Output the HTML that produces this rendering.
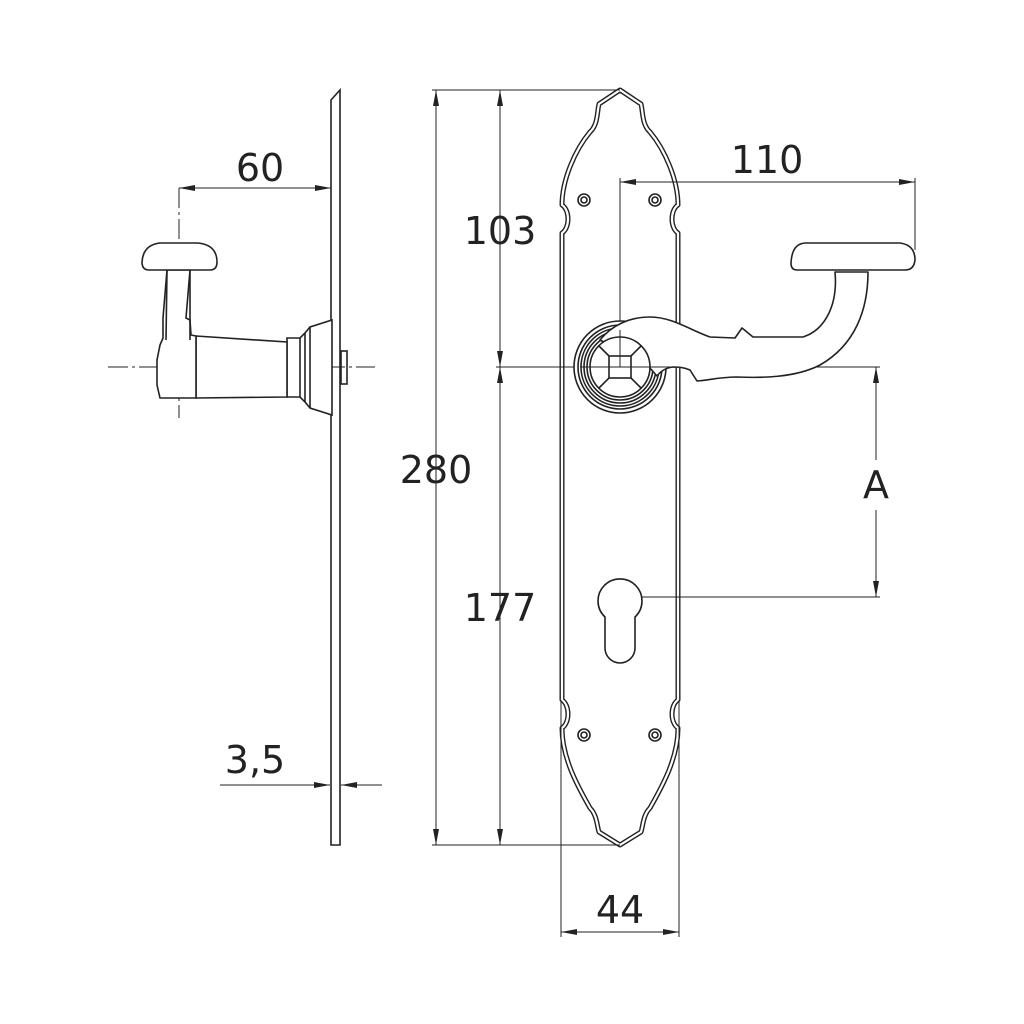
<!DOCTYPE html>
<html><head><style>body{margin:0;background:#fff}svg{display:block}text{font-family:"DejaVu Sans","Liberation Sans",sans-serif;font-size:38px;fill:#222}</style></head><body>
<svg width="1024" height="1024" viewBox="0 0 1024 1024" xmlns="http://www.w3.org/2000/svg">
<defs>
<marker id="a" markerWidth="16" markerHeight="8" refX="16" refY="4" orient="auto-start-reverse" markerUnits="userSpaceOnUse"><path d="M0,1 L16,4 L0,7Z" fill="#222"/></marker>
<path id="pl" d="M620,90 L641,104 C643,112 642,125 650,132 C665,150 678,180 678,205 C670,210 670,228 678,233 L678,700 C670,705 670,723 678,728 C678,760 660,790 650,808 C643,815 643,826 641,832 L620,845 L599,832 C597,826 597,815 590,808 C580,790 562,760 562,728 C570,723 570,705 562,700 L562,233 C570,228 570,210 562,205 C562,180 575,150 590,132 C598,125 597,112 599,104 Z"/>
</defs>
<use href="#pl" fill="#fff" stroke="#222" stroke-width="5" stroke-linejoin="round"/>
<use href="#pl" fill="none" stroke="#fff" stroke-width="2.2" stroke-linejoin="round"/>
<g stroke="#222" fill="none" stroke-width="1">
<line x1="179" y1="188" x2="331" y2="188" marker-start="url(#a)" marker-end="url(#a)"/>
<line x1="220" y1="785" x2="330" y2="785" marker-end="url(#a)"/>
<line x1="382" y1="785" x2="341" y2="785" marker-end="url(#a)"/>
<line x1="432" y1="90" x2="620" y2="90"/>
<line x1="432" y1="845" x2="620" y2="845"/>
<line x1="436" y1="90" x2="436" y2="845" marker-start="url(#a)" marker-end="url(#a)"/>
<line x1="500" y1="90" x2="500" y2="367" marker-start="url(#a)" marker-end="url(#a)"/>
<line x1="500" y1="367" x2="500" y2="845" marker-start="url(#a)" marker-end="url(#a)"/>
<line x1="496" y1="367" x2="880" y2="367"/>
<line x1="620" y1="182" x2="915" y2="182" marker-start="url(#a)" marker-end="url(#a)"/>
<line x1="620" y1="178" x2="620" y2="367"/>
<line x1="915" y1="178" x2="915" y2="250"/>
<line x1="876" y1="460" x2="876" y2="367" marker-end="url(#a)"/>
<line x1="876" y1="510" x2="876" y2="597" marker-end="url(#a)"/>
<line x1="620" y1="597" x2="880" y2="597"/>
<line x1="561" y1="700" x2="561" y2="937"/>
<line x1="679" y1="700" x2="679" y2="937"/>
<line x1="561" y1="932" x2="679" y2="932" marker-start="url(#a)" marker-end="url(#a)"/>
<line x1="108" y1="367" x2="375" y2="367" stroke-dasharray="20,4,3,4"/>
<line x1="179" y1="188" x2="179" y2="418" stroke-dasharray="20,4,3,4"/>
</g>
<g stroke="#222" fill="none" stroke-width="1.6">
<path d="M331,100 L340,90 L340,845 L331,845 Z"/>
<rect x="341" y="351" width="6" height="33"/>
<path d="M332,320 L310,327 L305,333 L300,338 L287,338 L287,397 L300,397 L305,402 L310,408 L332,415 Z" fill="#fff"/>
<line x1="300" y1="338" x2="300" y2="397"/><line x1="305" y1="333" x2="305" y2="402"/><line x1="310" y1="327" x2="310" y2="408"/>
<path d="M196,336 L287,342 L287,397 L196,398 Z" fill="#fff"/>
<path d="M163,338 L160,345 L157,360 L157,385 L160,398 L196,398 L196,336 L191,335 L190,320 L186,318 L190,270 L167,270 L163,318 Z" fill="#fff"/>
<line x1="167" y1="270" x2="166" y2="340"/><line x1="190" y1="270" x2="190" y2="340"/>
<path d="M167,243 L198,243 Q217,245 217,262 Q217,270 210,270 L149,270 Q142,270 142,262 Q143,245 160,243 Z" fill="#fff"/>
</g>
<g stroke="#222" fill="none" stroke-width="1.6">
<circle cx="584" cy="200" r="6"/><circle cx="584" cy="200" r="3"/>
<circle cx="655" cy="200" r="6"/><circle cx="655" cy="200" r="3"/>
<circle cx="584" cy="735" r="6"/><circle cx="584" cy="735" r="3"/>
<circle cx="655" cy="735" r="6"/><circle cx="655" cy="735" r="3"/>
<path d="M605,617 A22,22 0 1 1 635,617 L635,648 A15,15 0 0 1 605,648 Z" fill="#fff"/>
<circle cx="620" cy="367" r="46" fill="#fff"/>
<circle cx="620" cy="367" r="42"/><circle cx="620" cy="367" r="39"/><circle cx="620" cy="367" r="36"/><circle cx="620" cy="367" r="33"/>
<path d="M600,340 C612,325 630,317 650,317 C672,317 690,330 710,337 L735,338 L742,328 L753,337 L803,337 C825,330 838,305 835,272 L868,272 C868,310 855,345 820,365 C795,378 760,378 737,377 C720,377 710,380 697,381 L690,370 C683,367 678,367 673,367 C665,368 660,372 657,376 L650,368 L630,356 Z" fill="#fff" stroke-linejoin="round"/>
<path d="M806,243 L900,243 Q915,245 915,260 Q914,270 905,270 L797,270 Q791,270 791,263 Q792,243 806,243 Z" fill="#fff"/>
<circle cx="620" cy="367" r="30" fill="#fff"/>
<rect x="609" y="356" width="22" height="22"/>
<path d="M609,356 L599,346 M631,356 L641,346 M609,378 L599,388 M631,378 L641,388"/>
</g>
<g stroke="#222" stroke-width="1"><line x1="620" y1="330" x2="620" y2="367"/><line x1="580" y1="367" x2="680" y2="367"/></g>
<text x="260" y="181" text-anchor="middle">60</text>
<text x="255" y="773" text-anchor="middle">3,5</text>
<text x="436" y="483" text-anchor="middle">280</text>
<text x="500" y="244" text-anchor="middle">103</text>
<text x="500" y="621" text-anchor="middle">177</text>
<text x="767" y="173" text-anchor="middle">110</text>
<text x="876" y="498" text-anchor="middle">A</text>
<text x="620" y="923" text-anchor="middle">44</text>
</svg>
</body></html>
